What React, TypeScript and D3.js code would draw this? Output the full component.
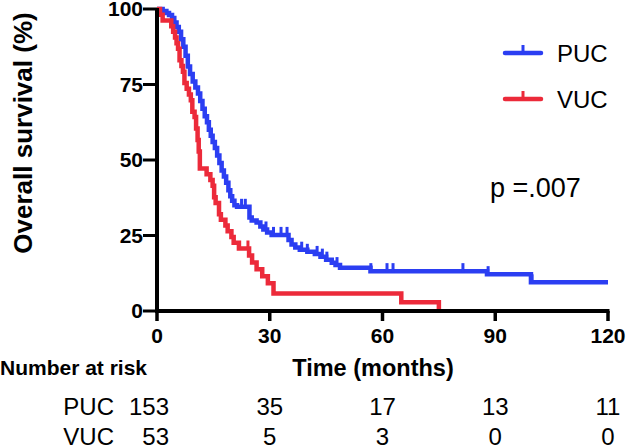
import React from 'react';
import * as d3 from 'd3';

// Kaplan-Meier steps: time (months) and survival (%) after each event
const pucTimes = [0, 1.5, 2.5, 3.2, 4, 4.6, 5.2, 5.8, 6.4, 7, 7.6, 8.2, 8.8, 9.5, 10.2, 10.9, 11.5, 12.1, 12.7, 13.3, 13.8, 14.3, 14.8, 15.4, 16, 16.6, 17.2, 17.8, 18.4, 19, 19.5, 20, 20.6, 21.3, 24.6, 25.2, 26.5, 27.5, 28.3, 29.3, 30.5, 35, 35.8, 36.8, 38, 40, 42, 43.5, 45, 46.5, 47.5, 48.7, 56.8, 87.8, 99.5];
const pucSurv = [100, 99.3, 98.7, 98, 97, 95.5, 94, 92.5, 90, 87.5, 84.5, 81, 78.5, 76, 74, 72, 69.5, 67, 64.5, 62.5, 60, 58, 56, 54, 51.5, 49, 46.5, 44.5, 42.5, 40, 38, 36.5, 35, 34.5, 31, 30, 29.3, 28, 27, 26, 25.2, 23.5, 22, 21, 20.3, 19.6, 18.9, 18, 17, 16, 15.2, 14.3, 13.2, 12.2, 9.5];
const pucCensor = [22.5, 23.5, 29, 31, 33, 34.6, 38.5, 40, 42.6, 44, 45.2, 47.9, 56.9, 61.2, 62.8, 81.4, 88.1, 99.8];
const pucEnd = 120;

const vucTimes = [0, 0.8, 1.5, 3.8, 4.3, 4.8, 5.2, 5.6, 6, 6.5, 6.9, 7.3, 7.9, 8.5, 9, 9.4, 10, 10.4, 10.8, 11.1, 11.4, 13.2, 14.2, 14.8, 15.2, 15.6, 16.5, 17, 18.2, 18.8, 19.8, 20.4, 21.8, 24.5, 25.3, 26.5, 28, 29.5, 31, 65, 75];
const vucSurv = [100, 98.1, 96.2, 94.3, 92.5, 90.6, 88.7, 86.8, 83, 81.1, 79.2, 75.5, 73.6, 71.7, 69.8, 66, 64.2, 60.4, 56.6, 52.8, 47.2, 45.3, 43.4, 41.5, 37.7, 35.8, 32, 30.2, 28.3, 26.4, 24.5, 22.6, 20.7, 18.4, 16.1, 13.8, 11.5, 9.2, 5.8, 2.9, 0];
const vucCensor = [24.2];
const vucEnd = 75;

const xTicks = [0, 30, 60, 90, 120];
const yTicks = [0, 25, 50, 75, 100];
const groups = ['PUC', 'VUC'];
const pucRisk = [153, 35, 17, 13, 11];
const vucRisk = [53, 5, 3, 0, 0];
const pText = 'p =.007';

const BLUE = '#2b3ef2';
const RED = '#ec2a3a';
const FONT = '"Liberation Sans", Arial, Helvetica, sans-serif';

type Pt = [number, number];

const App = () => {
  const width = 627;
  const height = 447;
  const x = d3.scaleLinear().domain([0, 120]).range([157, 608]);
  const y = d3.scaleLinear().domain([0, 100]).range([311, 9]);

  const line = d3.line<Pt>().x(d => x(d[0])).y(d => y(d[1])).curve(d3.curveStepAfter);

  const series = [
    { name: groups[0], times: pucTimes, surv: pucSurv, censor: pucCensor, end: pucEnd, color: BLUE, risk: pucRisk },
    { name: groups[1], times: vucTimes, surv: vucSurv, censor: vucCensor, end: vucEnd, color: RED, risk: vucRisk },
  ];

  const survAt = (times: number[], surv: number[], t: number) => {
    const i = d3.bisectRight(times, t) - 1;
    return surv[Math.max(0, i)];
  };

  return (
    <svg width={width} height={height} style={{ position: 'absolute', left: 0, top: 0, background: '#fff' }} fontFamily={FONT}>
      {/* curves */}
      {series.map(s => {
        const pts: Pt[] = s.times.map((t, i) => [t, s.surv[i]] as Pt);
        pts.push([s.end, s.surv[s.surv.length - 1]]);
        return (
          <g key={s.name}>
            <path d={line(pts) || ''} fill="none" stroke={s.color} strokeWidth={4.5} strokeLinejoin="miter" strokeLinecap="butt" />
            {s.censor.map((c, i) => {
              const v = survAt(s.times, s.surv, c);
              return <line key={i} x1={x(c)} x2={x(c)} y1={y(v) + 1} y2={y(v) - 8} stroke={s.color} strokeWidth={3} />;
            })}
          </g>
        );
      })}

      {/* y axis */}
      <line x1={x(0)} x2={x(0)} y1={y(100) - 1} y2={y(0) + 2} stroke="#000" strokeWidth={4} />
      {yTicks.map(t => (
        <g key={t}>
          <line x1={x(0) - 14} x2={x(0)} y1={y(t)} y2={y(t)} stroke="#000" strokeWidth={3} />
          <text x={x(0) - 14} y={y(t)} dy="0.35em" textAnchor="end" fontSize={21} fontWeight="bold">{t}</text>
        </g>
      ))}

      {/* x axis */}
      <line x1={x(0) - 2} x2={x(120) + 1.5} y1={y(0)} y2={y(0)} stroke="#000" strokeWidth={4} />
      {xTicks.map(t => (
        <g key={t}>
          <line x1={x(t)} x2={x(t)} y1={y(0)} y2={y(0) + 10} stroke="#000" strokeWidth={3.5} />
          <text x={x(t)} y={y(0) + 32} textAnchor="middle" fontSize={21} fontWeight="bold">{t}</text>
        </g>
      ))}

      <text transform={`translate(32,133) rotate(-90)`} textAnchor="middle" fontSize={26} fontWeight="bold">Overall survival (%)</text>
      <text x={373} y={376} textAnchor="middle" fontSize={23.5} fontWeight="bold">Time (months)</text>
      <text x={0} y={375} fontSize={21} fontWeight="bold">Number at risk</text>

      {/* risk table */}
      {series.map((s, r) => (
        <g key={s.name}>
          <text x={114} y={415 + r * 30} textAnchor="end" fontSize={24}>{s.name}</text>
          {s.risk.map((n, i) => (
            <text key={i} x={i === 0 ? x(xTicks[i]) + 12 : x(xTicks[i])} y={415 + r * 30} textAnchor={i === 0 ? 'end' : 'middle'} fontSize={24}>{n}</text>
          ))}
        </g>
      ))}

      {/* legend */}
      {series.map((s, i) => (
        <g key={s.name} transform={`translate(0,${53 + i * 46})`}>
          <line x1={505} x2={541} y1={0} y2={0} stroke={s.color} strokeWidth={4.5} strokeLinecap="round" />
          <line x1={523} x2={523} y1={0} y2={-8} stroke={s.color} strokeWidth={3} />
          <text x={557} y={0} dy="0.36em" fontSize={24}>{s.name}</text>
        </g>
      ))}

      <text x={490} y={197} fontSize={27}>{pText}</text>
    </svg>
  );
};

export default App;
